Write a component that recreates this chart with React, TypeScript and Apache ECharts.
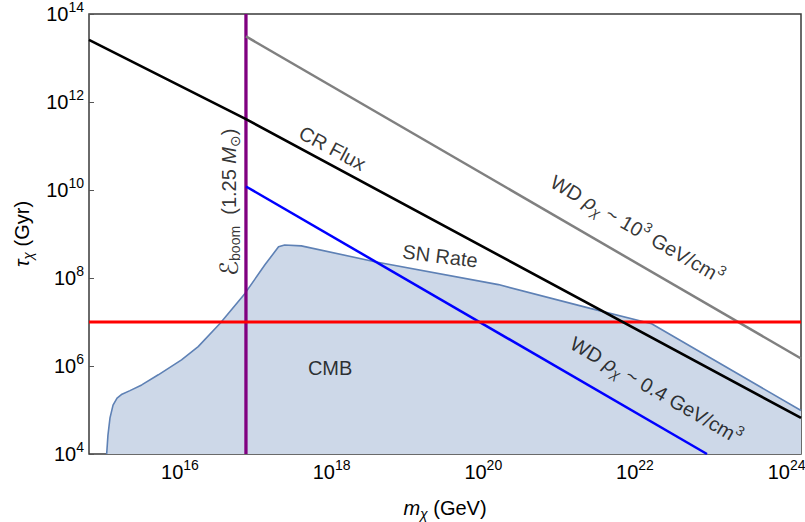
import React, { useEffect, useRef } from "react";
import * as echarts from "echarts";

// Axis ranges (log10 units)
const X_MIN = 14.8;
const X_MAX = 24.19;
const Y_MIN = 4;
const Y_MAX = 14;

// Tick positions (log10 of value)
const xTicks = [16, 18, 20, 22, 24];
const yTicks = [4, 6, 8, 10, 12, 14];

// SN Rate / CMB excluded region boundary (log10 m, log10 tau)
const snX = [15.033, 15.05, 15.077, 15.117, 15.17, 15.235, 15.34, 15.495, 15.714, 16.02, 16.24, 16.53, 16.857, 17.12, 17.3, 17.38, 17.6, 18.57, 20.2, 21.41, 22.22, 24.19];
const snY = [4.0, 4.43, 4.82, 5.11, 5.27, 5.36, 5.44, 5.57, 5.8, 6.14, 6.44, 6.97, 7.65, 8.3, 8.71, 8.75, 8.73, 8.37, 7.85, 7.31, 6.96, 4.99];

// CMB horizontal bound
const cmbLevel = 7.0;
// E_boom (1.25 M_sun) vertical bound
const boomMass = 16.87;

// CR Flux
const crX = [14.8, 16.87, 24.19];
const crY = [13.41, 11.61, 4.82];

// WD rho ~ 1e3 GeV/cm^3
const wdHighX = [16.87, 24.19];
const wdHighY = [13.49, 6.17];

// WD rho ~ 0.4 GeV/cm^3
const wdLowX = [16.87, 22.95];
const wdLowY = [10.08, 4.0];

const FONT = "'Liberation Sans', Arial, 'DejaVu Sans', sans-serif";

const zip = (xs: number[], ys: number[]) => xs.map((x, i) => [x, ys[i]]);

export default function App() {
  const ref = useRef<HTMLDivElement>(null);

  useEffect(() => {
    if (!ref.current) return;
    const chart = echarts.init(ref.current, undefined, { renderer: "svg" });

    const rich: any = {
      t: { fontFamily: FONT, fontSize: 20, color: "#000" },
      big: { fontFamily: FONT, fontSize: 25, color: "#000" },
      i: { fontFamily: FONT, fontSize: 20, color: "#000", fontStyle: "italic" },
      sub: { fontFamily: FONT, fontSize: 14, color: "#000", fontStyle: "italic", padding: [12, 0, 0, 0] },
      subn: { fontFamily: FONT, fontSize: 14, color: "#000", padding: [12, 0, 0, 0] },
      sup: { fontFamily: FONT, fontSize: 14, color: "#000", padding: [0, 0, 14, 0] },
      b: { fontFamily: FONT, fontSize: 20, color: "#000" },
      s: { fontFamily: FONT, fontSize: 14, color: "#000", padding: [0, 0, 14, 0] },
    };

    const annotations = [
      { x: 18.01, y: 10.95, rotate: -28, text: "{t|CR Flux}" },
      { x: 19.43, y: 8.5, rotate: -7, text: "{t|SN Rate}" },
      { x: 17.98, y: 5.95, rotate: 0, text: "{t|CMB}" },
      { x: 22.03, y: 9.11, rotate: -30, text: "{t|WD }{i|ρ}{sub|χ}{t| ~ 10}{sup|3}{t| GeV/cm}{sup|3}" },
      { x: 22.28, y: 5.45, rotate: -30, text: "{t|WD }{i|ρ}{sub|χ}{t| ~ 0.4 GeV/cm}{sup|3}" },
      { x: 16.64, y: 9.72, rotate: 90, text: "{big|ℰ}{subn|boom}{t|  (1.25 }{i|M}{subn|⊙}{t|)}" },
    ];

    const lineSeries = (name: string, data: number[][], color: string, width: number) => ({
      type: "line",
      name,
      data,
      showSymbol: false,
      symbol: "none",
      silent: true,
      z: 3,
      lineStyle: { color, width },
    });

    const option: any = {
      animation: false,
      backgroundColor: "#fff",
      grid: {
        left: 89,
        top: 14,
        right: 4,
        bottom: 68,
        show: true,
        containLabel: false,
        outerBoundsMode: "none",
        borderColor: "#3a3a3a",
        borderWidth: 1.5,
        backgroundColor: "transparent",
      },
      xAxis: {
        type: "value",
        min: X_MIN,
        max: X_MAX,
        name: "{i|m}{sub|χ}{t| (GeV)}",
        nameLocation: "middle",
        nameGap: 41,
        nameTextStyle: { rich, color: "#000" },
        axisLine: { show: false },
        splitLine: { show: false },
        axisTick: { show: true, inside: true, length: 5, customValues: xTicks, lineStyle: { color: "#555", width: 1 } },
        axisLabel: {
          show: true,
          margin: 4,
          color: "#000",
          customValues: xTicks,
          formatter: (v: number) => `{b|10}{s|${Math.round(v)}}`,
          rich,
        },
      },
      yAxis: {
        type: "value",
        min: Y_MIN,
        max: Y_MAX,
        name: "{i|τ}{sub|χ}{t| (Gyr)}",
        nameLocation: "middle",
        nameGap: 54,
        nameTextStyle: { rich, color: "#000" },
        axisLine: { show: false },
        splitLine: { show: false },
        axisTick: { show: true, inside: true, length: 5, customValues: yTicks, lineStyle: { color: "#555", width: 1 } },
        axisLabel: {
          show: true,
          margin: 5,
          color: "#000",
          customValues: yTicks,
          formatter: (v: number) => `{b|10}{s|${Math.round(v)}}`,
          rich,
        },
      },
      series: [
        {
          type: "line",
          name: "SN Rate / CMB",
          data: zip(snX, snY),
          showSymbol: false,
          symbol: "none",
          silent: true,
          z: 1,
          lineStyle: { color: "#5E81B5", width: 1.6 },
          areaStyle: { color: "#cdd8e8", opacity: 1, origin: "start" },
        },
        lineSeries("E_boom", [[boomMass, Y_MIN], [boomMass, Y_MAX]], "#800080", 3.3),
        lineSeries("WD 0.4", zip(wdLowX, wdLowY), "#0000ff", 2.5),
        lineSeries("WD 1e3", zip(wdHighX, wdHighY), "#808080", 2.5),
        lineSeries("CMB", [[X_MIN, cmbLevel], [X_MAX, cmbLevel]], "#ff0000", 2.8),
        lineSeries("CR Flux", zip(crX, crY), "#000000", 2.6),
        {
          type: "scatter",
          name: "labels",
          symbolSize: 0,
          silent: true,
          z: 10,
          data: annotations.map((a) => ({
            value: [a.x, a.y],
            label: {
              show: true,
              position: "inside",
              color: "#000",
              formatter: a.text,
              rotate: a.rotate,
              align: "center",
              verticalAlign: "middle",
              rich,
            },
          })),
        },
      ],
    };

    chart.setOption(option);
    return () => chart.dispose();
  }, []);

  return (
    <div
      ref={ref}
      style={{ position: "fixed", left: 0, top: 0, width: 805, height: 522, background: "#fff" }}
    />
  );
}
